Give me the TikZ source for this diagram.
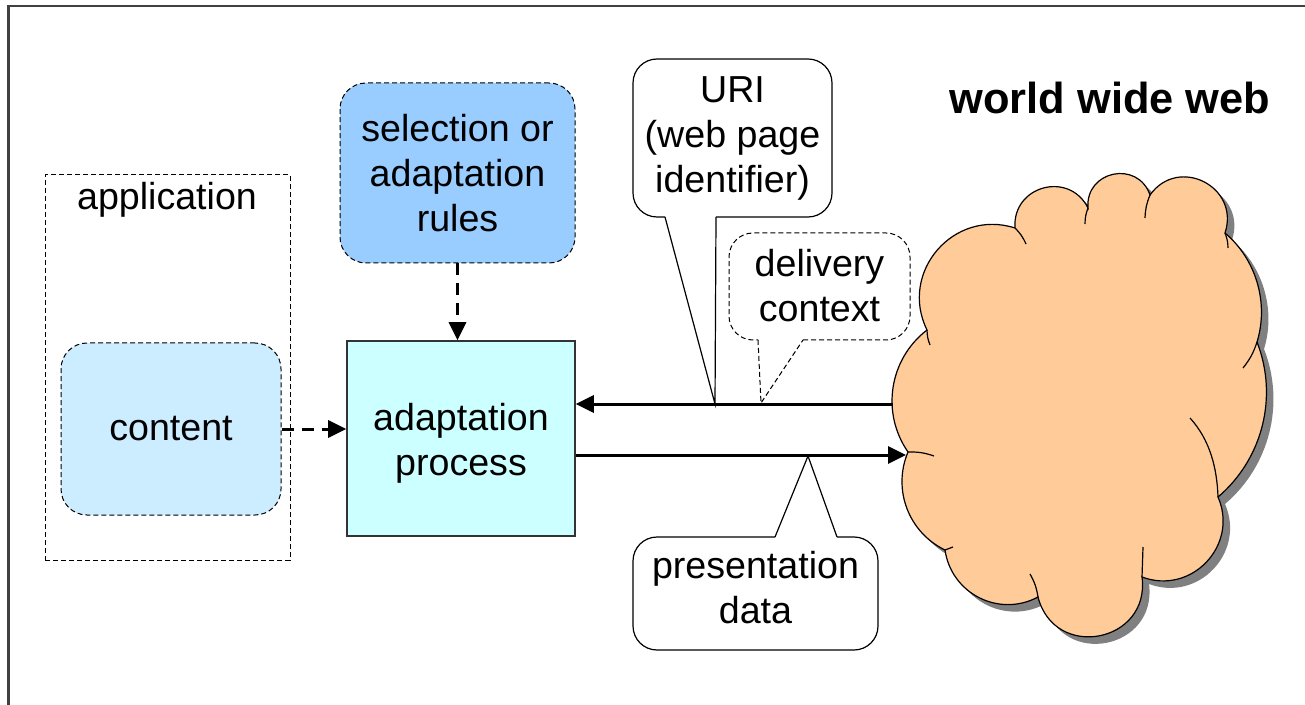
\documentclass[tikz,border=0pt]{standalone}
\usepackage{fontspec}
\setmainfont{Liberation Sans}
\usetikzlibrary{calc,arrows.meta}

\definecolor{rulesblue}{HTML}{99CCFF}
\definecolor{contentblue}{HTML}{CCECFF}
\definecolor{proccyan}{HTML}{CCFFFF}
\definecolor{webpeach}{HTML}{FFCC99}
\definecolor{framegray}{HTML}{404040}
\definecolor{shadowgray}{HTML}{808080}

% one rounded puff of the cloud, from #1 to #2, bulging outwards
\newcommand\puff[4]{.. controls ($(#1)!#4!#3:(#2)$) and ($(#2)!#4!-#3:(#1)$) .. (#2)}
\newcommand\webcloud{(c11) \puff{c11}{c1}{43.6}{0.387} \puff{c1}{c2}{67}{0.478}
  \puff{c2}{c3}{78.7}{0.558} \puff{c3}{c4}{82.7}{0.591} \puff{c4}{c5}{81.4}{0.58}
  \puff{c5}{c6}{33.4}{0.36} \puff{c6}{c7}{35.5}{0.367} \puff{c7}{c8}{67}{0.478}
  \puff{c8}{c9}{86.5}{0.627} \puff{c9}{c10}{55}{0.424} \puff{c10}{c11}{43.6}{0.387} -- cycle}

\begin{document}
\begin{tikzpicture}[x=0.5pt,y=-0.5pt,
  txt/.style={font=\fontsize{18.8}{22.5}\selectfont, align=center, inner sep=0pt},
  thindash/.style={line width=0.5pt, dash pattern=on 2.5pt off 1.5pt},
  dashbox/.style={txt, draw, thindash, rounded corners=13pt},
  flow/.style={line width=1.5pt, -{Triangle[length=9pt,width=8.5pt]}},
  dashflow/.style={flow, dash pattern=on 6pt off 4pt},
  calloutline/.style={line width=0.6pt},
  cloudline/.style={line width=0.6pt},
]
\useasboundingbox (0,0) rectangle (1305,705);

% frame of the slide
\draw[framegray, line width=1.3pt] (8.5,705) -- (8.5,6) -- (1305,6);

% application side
\node[draw, thindash, minimum width=122.5pt, minimum height=192.5pt] (app) at (167.5,367.5) {};
\node[txt] (applabel) at (167,200) {application};
\node[dashbox, fill=contentblue, minimum width=110pt, minimum height=86pt] (content) at (171,429) {content};

% rules and the adaptation process
\node[dashbox, fill=rulesblue, minimum width=117.5pt, minimum height=90pt] (rules) at (457.5,173) {selection or\\adaptation\\rules};
\node[draw=black!80, line width=0.8pt, fill=proccyan, minimum width=114pt, minimum height=97.5pt] (proc) at (461,438.5) {};
\node[txt] (proctext) at (461,443.5) {adaptation\\process};

\draw[dashflow] (rules.south) -- (rules.south |- proc.north);
\draw[dashflow] (content.east) -- (content.east -| proc.west);

% the web
\coordinate (c11) at (908,452);
\coordinate (c1) at (927,330);
\coordinate (c2) at (1015,228);
\coordinate (c3) at (1088,208);
\coordinate (c4) at (1150,195);
\coordinate (c5) at (1225,233);
\coordinate (c6) at (1257,342);
\coordinate (c7) at (1218,497);
\coordinate (c8) at (1142,577);
\coordinate (c9) at (1038,597);
\coordinate (c10) at (945,550);
\fill[shadowgray, transform canvas={shift={(3.5pt,-3.5pt)}}] \webcloud;
\filldraw[cloudline, fill=webpeach] \webcloud;
\begin{scope}[cloudline]
  \draw (c1) to[bend right=10] (930,345);
  \draw (c2) to[bend left=10] (1026,244);
  \draw (c3) to[bend right=10] (1085,224);
  \draw (c4) to[bend right=10] (1145,218);
  \draw (c5) to[bend left=10] (1228,248);
  \draw (c6) to[bend left=10] (1243,368);
  \draw (1190,418) .. controls (1210,440) and (1217,468) .. (c7);
  \draw (c8) -- (1143,547);
  \draw (c9) to[bend right=10] (1030,574);
  \draw (c10) -- (953,547);
  \draw (c11) to[bend left=10] (934,456);
\end{scope}
\node[font=\fontsize{21.7}{26}\selectfont\bfseries, inner sep=0pt] (wwwlabel) at (1110,98) {world wide web};

% request and response
\coordinate (webin) at (893,404);
\coordinate (webout) at (906,455);
\draw[flow] (webin) -- (webin -| proc.east);
\draw[flow] (webout -| proc.east) -- (webout);

% callouts: the pointer, then the rounded box from one side of the pointer to the other
\coordinate (uritip) at (715,404);
\draw[calloutline] (665,217) -- (uritip) -- (716,217);
\draw[calloutline, rounded corners=12pt] (716,217) -- (832,217) -- (832,59) -- (633,59) -- (633,217) -- (665,217);
\node[txt] (uri) at (732.5,138) {URI\\(web page\\identifier)};

\coordinate (dctip) at (761,403);
\draw[thindash] (758,340) -- (dctip) -- (803,340);
\draw[thindash, rounded corners=12pt] (803,340) -- (910,340) -- (910,233) -- (729,233) -- (729,340) -- (758,340);
\node[txt] (dc) at (819.5,285.5) {delivery\\context};

\coordinate (pdtip) at (808,456);
\draw[calloutline] (837,537) -- (pdtip) -- (775,537);
\draw[calloutline, rounded corners=12pt] (775,537) -- (633,537) -- (633,650) -- (878,650) -- (878,537) -- (837,537);
\node[txt] (pd) at (755.5,588) {presentation\\data};
\end{tikzpicture}
\end{document}
